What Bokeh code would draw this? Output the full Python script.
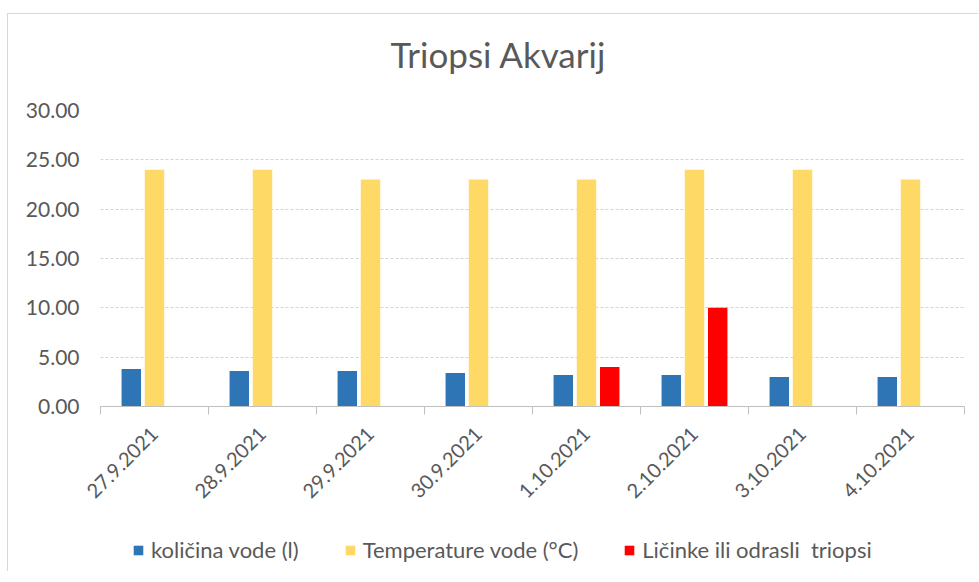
from math import pi
from bokeh.plotting import figure
from bokeh.layouts import column
from bokeh.models import (ColumnDataSource, FixedTicker, NumeralTickFormatter,
                          Range1d, Legend, LegendItem, Label)
from bokeh.transform import dodge
from bokeh.embed import file_html
from bokeh.resources import INLINE

title_text = "Triopsi Akvarij"
dates = ["27.9.2021", "28.9.2021", "29.9.2021", "30.9.2021",
         "1.10.2021", "2.10.2021", "3.10.2021", "4.10.2021"]
kolicina = [3.8, 3.6, 3.6, 3.4, 3.2, 3.2, 3.0, 3.0]
temperatura = [24, 24, 23, 23, 23, 24, 24, 23]
licinke = [0, 0, 0, 0, 4, 10, 0, 0]
y_ticks = [0, 5, 10, 15, 20, 25, 30]
series_names = ["količina vode (l)", "Temperature vode (°C)",
                "Ličinke ili odrasli  triopsi"]
colors = ["#2e75b6", "#ffd966", "#ff0000"]

pos = [i + 0.5 for i in range(len(dates))]
src = ColumnDataSource(dict(x=pos, k=kolicina, t=temperatura, l=licinke))

FONT = "Lato"
GREY = "#595959"
W_TOTAL = 970
FRAME_W = 864


def bare(height):
    f = figure(width=W_TOTAL, height=height, x_range=Range1d(0, 1),
               y_range=Range1d(0, 1), output_backend="svg",
               toolbar_location=None, x_axis_location=None,
               y_axis_location=None, min_border=0)
    f.grid.visible = False
    f.outline_line_color = None
    return f


# ---- title strip (frame aligned with the chart frame by the column)
pt = bare(70)
pt.add_layout(Label(x=398 / FRAME_W, y=1 - 39 / 70, text=title_text,
                    text_align="center", text_baseline="middle",
                    text_font=FONT, text_font_size="35px", text_color=GREY))

# ---- main chart
p = figure(width=W_TOTAL, height=447, frame_width=FRAME_W, frame_height=296,
           x_range=Range1d(0, len(dates)), y_range=Range1d(0, 30),
           output_backend="svg", toolbar_location=None,
           min_border_left=92, min_border_right=14,
           min_border_top=26, min_border_bottom=125)
p.outline_line_color = None

W = 0.18
p.vbar(x=dodge("x", -0.215, range=p.x_range), top="k", width=W, source=src,
       fill_color=colors[0], line_color=None)
p.vbar(x="x", top="t", width=W, source=src,
       fill_color=colors[1], line_color=None)
p.vbar(x=dodge("x", 0.215, range=p.x_range), top="l", width=W, source=src,
       fill_color=colors[2], line_color=None)

p.xaxis.ticker = FixedTicker(ticks=pos, minor_ticks=list(range(len(dates) + 1)))
p.xaxis.major_label_overrides = {v: d for v, d in zip(pos, dates)}
p.xaxis.major_label_orientation = pi / 4
p.xaxis.major_tick_line_color = None
p.xaxis.minor_tick_line_color = "#bfbfbf"
p.xaxis.minor_tick_in = 0
p.xaxis.minor_tick_out = 8
p.xaxis.axis_line_color = "#bfbfbf"
p.xaxis.major_label_text_font = FONT
p.xaxis.major_label_text_font_size = "20px"
p.xaxis.major_label_text_color = GREY
p.xaxis.major_label_standoff = 16

p.yaxis.ticker = FixedTicker(ticks=y_ticks)
p.yaxis.formatter = NumeralTickFormatter(format="0.00")
p.yaxis.axis_line_color = None
p.yaxis.major_tick_line_color = None
p.yaxis.minor_tick_line_color = None
p.yaxis.major_label_text_font = FONT
p.yaxis.major_label_text_font_size = "21px"
p.yaxis.major_label_text_color = GREY
p.yaxis.major_label_standoff = 15

p.xgrid.grid_line_color = None
p.ygrid.grid_line_color = "#d4d4d4"
p.ygrid.grid_line_dash = "3 2"

# ---- legend strip
pl = bare(40)
items = []
for name, c in zip(series_names, colors):
    # zero-height bar: only serves as the legend swatch
    r = pl.vbar(x=[0.5], top=[0], bottom=[0], width=0.0,
                fill_color=c, line_color=None)
    items.append(LegendItem(label=name, renderers=[r]))
legend = Legend(items=items, orientation="horizontal", location=(32, 8),
                label_text_font=FONT, label_text_font_size="22px",
                label_text_color=GREY, glyph_width=12, glyph_height=12,
                spacing=45, label_standoff=7, padding=0, margin=0,
                border_line_color=None, background_fill_alpha=0)
pl.add_layout(legend, "center")

layout = column(pt, p, pl, spacing=0,
                styles={"border-left": "1px solid #d9d9d9",
                        "border-top": "1px solid #d9d9d9",
                        "margin-top": "13px", "margin-left": "7px"})

open("out.html", "w").write(file_html(layout, INLINE))
